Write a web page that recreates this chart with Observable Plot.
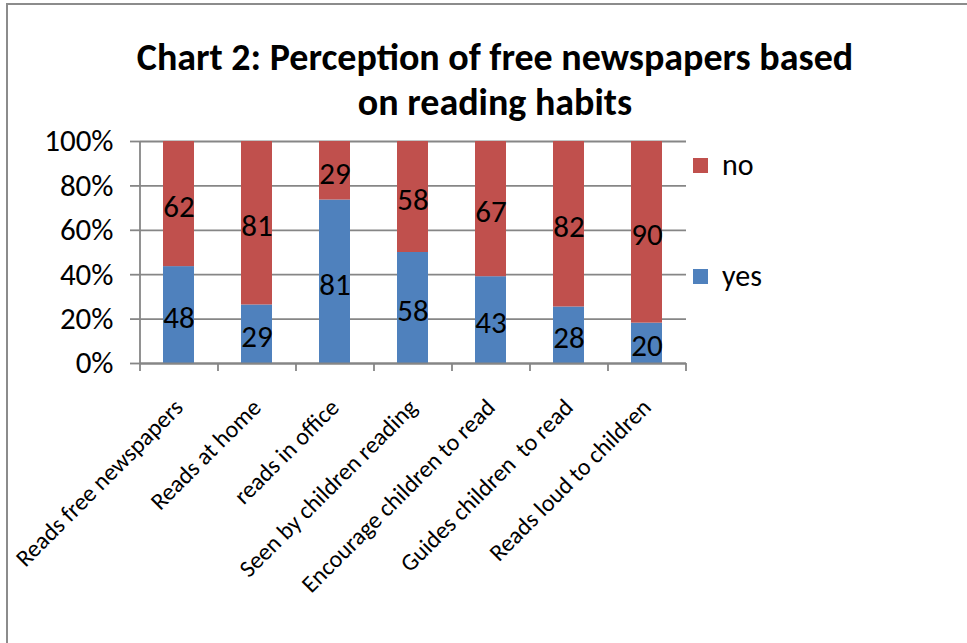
<!DOCTYPE html>
<html>
<head>
<meta charset="utf-8">
<script src="https://cdn.jsdelivr.net/npm/d3@7"></script>
<script src="https://cdn.jsdelivr.net/npm/@observablehq/plot@0.6"></script>
<style>
  html, body { margin: 0; padding: 0; background: #fff; }
  #wrap { position: relative; width: 967px; height: 643px; overflow: hidden; font-family: Carlito, Lato, "Open Sans", sans-serif; }
  #topline { position: absolute; left: 6px; right: 0; top: 3px; height: 2px; background: #8c8c8c; }
  #leftline { position: absolute; left: 6px; top: 3px; bottom: 0; width: 2px; background: #8c8c8c; }
  #title { position: absolute; left: 0; width: 990px; top: 35px; text-align: center; font-weight: bold; font-size: 38px; line-height: 45px; color: #000; }
  #chart { position: absolute; left: 0; top: 130px; }
  .leg { position: absolute; left: 693px; display: flex; align-items: center; font-size: 30px; line-height: 30px; color: #000; }
  .leg .sw { width: 15px; height: 15px; margin-right: 14px; }
</style>
</head>
<body>
<div id="wrap">
  <div id="topline"></div>
  <div id="leftline"></div>
  <div id="title">Chart 2: Perception of free newspapers based<br>on reading habits</div>
  <div id="chart"></div>
</div>
<script>
const categories = [
  "Reads free newspapers",
  "Reads at home",
  "reads in office",
  "Seen by children reading",
  "Encourage children to read",
  "Guides children  to read",
  "Reads loud to children"
];
const yesValues = [48, 29, 81, 58, 43, 28, 20];
const noValues  = [62, 81, 29, 58, 67, 82, 90];
const seriesNames = ["yes", "no"];
const seriesColors = ["#4F81BD", "#C0504D"];
const yTicks = [0, 0.2, 0.4, 0.6, 0.8, 1];

const data = categories.flatMap((c, i) => [
  {cat: c, series: "yes", value: yesValues[i]},
  {cat: c, series: "no", value: noValues[i]}
]);

const W = 967, H = 513, mL = 140, mR = 281, mT = 11, mB = 280;
const step = (W - mL - mR) / categories.length;
const grid = "#868686";

const chart = Plot.plot({
  width: W, height: H,
  marginTop: mT, marginBottom: mB, marginLeft: mL, marginRight: mR,
  style: {fontFamily: "Carlito, Lato, 'Open Sans', sans-serif", color: "#000", background: "transparent", overflow: "visible"},
  x: {domain: categories, paddingInner: 0.6, paddingOuter: 0.3, label: null},
  y: {domain: [0, 1], label: null},
  color: {domain: seriesNames, range: seriesColors},
  marks: [
    Plot.gridY(yTicks, {stroke: grid, strokeOpacity: 1, strokeWidth: 1.8}),
    Plot.barY(data, {x: "cat", y: "value", fill: "series", offset: "normalize", order: seriesNames}),
    Plot.text(data, Plot.stackY({x: "cat", y: "value", z: "series", text: "value", offset: "normalize", order: seriesNames, fontSize: 31, dy: 3, fill: "#000"})),
    Plot.ruleX([categories[0]], {x: d => d, dx: -step / 2, stroke: grid, strokeWidth: 1.8}),
    Plot.ruleY([0], {stroke: grid, strokeWidth: 1.8}),
    Plot.ruleX(categories, {x: d => d, dx: -step / 2, y1: 0, y2: 0, insetBottom: -8, stroke: grid, strokeWidth: 1.8}),
    Plot.ruleX([categories[categories.length - 1]], {x: d => d, dx: step / 2, y1: 0, y2: 0, insetBottom: -8, stroke: grid, strokeWidth: 1.8}),
    Plot.axisY(yTicks, {tickFormat: d3.format(".0%"), tickSize: 10, tickPadding: 17, stroke: grid, strokeWidth: 1.8, fontSize: 31, fill: "#000"}),
    Plot.axisX({tickSize: 0, tickRotate: -45, tickPadding: 40, dx: 0, fontSize: 24, fill: "#000"})
  ]
});
document.getElementById("chart").appendChild(chart);

// legend (reverse order: no on top)
const legTops = {no: 165, yes: 276};
seriesNames.slice().reverse().forEach(name => {
  const i = seriesNames.indexOf(name);
  const el = document.createElement("div");
  el.className = "leg";
  el.style.top = (legTops[name] - 15) + "px";
  el.innerHTML = `<div class="sw" style="background:${seriesColors[i]}"></div><span>${name}</span>`;
  document.getElementById("wrap").appendChild(el);
});
</script>
</body>
</html>
